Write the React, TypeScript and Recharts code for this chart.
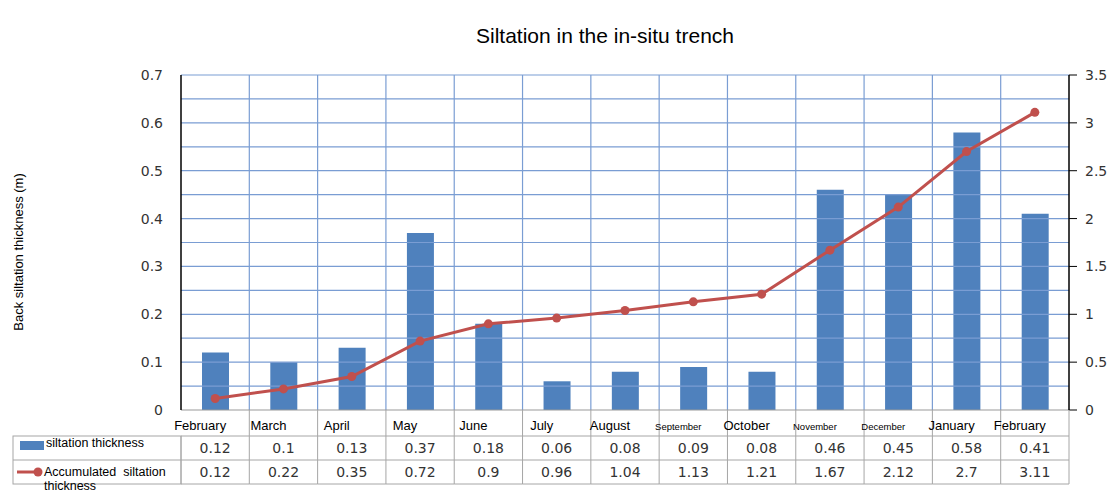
import React from 'react';
import { ComposedChart, Bar, Line, XAxis, YAxis, ReferenceLine } from 'recharts';

const months = ['February', 'March', 'April', 'May', 'June', 'July', 'August', 'September', 'October', 'November', 'December', 'January', 'February'];
const siltation = [0.12, 0.1, 0.13, 0.37, 0.18, 0.06, 0.08, 0.09, 0.08, 0.46, 0.45, 0.58, 0.41];
const accumulated = [0.12, 0.22, 0.35, 0.72, 0.9, 0.96, 1.04, 1.13, 1.21, 1.67, 2.12, 2.7, 3.11];
const leftTicks = [0, 0.1, 0.2, 0.3, 0.4, 0.5, 0.6, 0.7];
const rightTicks = [0, 0.5, 1, 1.5, 2, 2.5, 3, 3.5];
const gridValues = [0.05, 0.1, 0.15, 0.2, 0.25, 0.3, 0.35, 0.4, 0.45, 0.5, 0.55, 0.6, 0.65, 0.7];
const smallMonths = ['September', 'November', 'December'];

const data = months.map((m, i) => ({ id: i, month: m, silt: siltation[i], acc: accumulated[i] }));

const BAR_COLOR = '#4F81BD';
const LINE_COLOR = '#C0504D';
const GRID_COLOR = '#7A9DD3';
const TABLE_COLOR = '#A6A6A6';
const W = 1111;
const H = 493;
const LEFT_W = 181;
const RIGHT_W = 42;
const HALF = (W - LEFT_W - RIGHT_W) / months.length / 2;

const TableTick = (props: any) => {
  const { x, y, payload } = props;
  const i: number = payload.index ?? props.index ?? 0;
  const half = payload.offset || HALF;
  const left = x - half;
  const right = x + half;
  const month = months[i];
  const small = smallMonths.includes(month);
  const n = months.length;
  return (
    <g>
      <line x1={left} x2={left} y1={i === 0 ? y + 26 : y} y2={y + 74} stroke={TABLE_COLOR} />
      {i === n - 1 && <line x1={right} x2={right} y1={y} y2={y + 74} stroke={TABLE_COLOR} />}
      <line x1={left} x2={right} y1={y + 26} y2={y + 26} stroke={TABLE_COLOR} />
      <line x1={left} x2={right} y1={y + 50} y2={y + 50} stroke={TABLE_COLOR} />
      <line x1={left} x2={right} y1={y + 74} y2={y + 74} stroke={TABLE_COLOR} />
      <text x={x - 15} y={y + 20} textAnchor="middle" fontFamily="Liberation Sans, Arial, sans-serif" fontSize={small ? 9.5 : 13} fill="#000">
        {month}
      </text>
      <text x={x} y={y + 43} textAnchor="middle" fontFamily="DejaVu Sans, Verdana, sans-serif" fontSize={14} fill="#333">
        {siltation[i]}
      </text>
      <text x={x} y={y + 67} textAnchor="middle" fontFamily="DejaVu Sans, Verdana, sans-serif" fontSize={14} fill="#333">
        {accumulated[i]}
      </text>
      {i === 0 && (
        <g>
          <rect x={13} y={y + 26} width={left - 13} height={48} fill="none" stroke={TABLE_COLOR} />
          <line x1={13} x2={left} y1={y + 50} y2={y + 50} stroke={TABLE_COLOR} />
          <rect x={20} y={y + 31} width={24} height={9} fill={BAR_COLOR} />
          <text x={46} y={y + 37} fontFamily="Liberation Sans, Arial, sans-serif" fontSize={12.5} fill="#000">
            siltation thickness
          </text>
          <line x1={17} x2={42} y1={y + 62} y2={y + 62} stroke={LINE_COLOR} strokeWidth={3} />
          <circle cx={38} cy={y + 62} r={4.5} fill={LINE_COLOR} />
          <text x={44} y={y + 66} fontFamily="Liberation Sans, Arial, sans-serif" fontSize={12.5} fill="#000">
            Accumulated{'\u00a0\u00a0'}siltation
          </text>
          <text x={44} y={y + 80} fontFamily="Liberation Sans, Arial, sans-serif" fontSize={12.5} fill="#000">
            thickness
          </text>
        </g>
      )}
    </g>
  );
};

export default function App() {
  return (
    <div style={{ position: 'absolute', left: 0, top: 0, width: W, height: H, background: '#fff', overflow: 'hidden' }}>
      <div
        style={{
          position: 'absolute',
          left: 0,
          top: 23,
          width: 1210,
          textAlign: 'center',
          fontFamily: 'Liberation Sans, Arial, sans-serif',
          fontSize: 21,
          color: '#000',
          lineHeight: '26px',
        }}
      >
        Siltation in the in-situ trench
      </div>
      <div
        style={{
          position: 'absolute',
          left: 18,
          top: 252,
          transform: 'translate(-50%, -50%) rotate(-90deg)',
          whiteSpace: 'nowrap',
          fontFamily: 'Liberation Sans, Arial, sans-serif',
          fontSize: 13,
          color: '#000',
        }}
      >
        Back siltation thickness (m)
      </div>
      <ComposedChart
        width={W}
        height={H}
        data={data}
        margin={{ top: 75, right: 0, bottom: 0, left: 0 }}
        barCategoryGap={0}
        style={{ position: 'absolute', left: 0, top: 0 }}
      >
        <XAxis
          dataKey="id"
          type="category"
          height={83}
          interval={0}
          tickLine={false}
          tickSize={0}
          tickMargin={0}
          axisLine={{ stroke: '#999', strokeWidth: 1 }}
          tick={<TableTick />}
        />
        <YAxis
          yAxisId="left"
          width={LEFT_W}
          domain={[0, 0.7]}
          ticks={leftTicks}
          interval={0}
          tickLine={false}
          tickSize={0}
          tickMargin={18}
          axisLine={{ stroke: '#000', strokeWidth: 1.5 }}
          tick={{ fill: '#333', fontSize: 14, fontFamily: 'DejaVu Sans, Verdana, sans-serif' }}
        />
        <YAxis
          yAxisId="right"
          orientation="right"
          width={RIGHT_W}
          domain={[0, 3.5]}
          ticks={rightTicks}
          interval={0}
          tickSize={8}
          tickMargin={8}
          tickLine={{ stroke: '#000' }}
          axisLine={{ stroke: '#000', strokeWidth: 1.5 }}
          tick={{ fill: '#333', fontSize: 14, fontFamily: 'DejaVu Sans, Verdana, sans-serif', textAnchor: 'start' }}
        />
        {gridValues.map((v) => (
          <ReferenceLine key={'h' + v} yAxisId="left" y={v} stroke={GRID_COLOR} strokeWidth={1.2} ifOverflow="extendDomain" />
        ))}
        {data.slice(1).map((d) => (
          <ReferenceLine key={'v' + d.id} yAxisId="left" x={d.id} position="start" stroke={GRID_COLOR} strokeWidth={1.2} />
        ))}
        <Bar yAxisId="left" dataKey="silt" fill={BAR_COLOR} barSize={27} isAnimationActive={false} />
        <Line
          yAxisId="right"
          dataKey="acc"
          stroke={LINE_COLOR}
          strokeWidth={3}
          dot={{ r: 4.5, fill: LINE_COLOR, stroke: LINE_COLOR, strokeWidth: 0 }}
          activeDot={false}
          isAnimationActive={false}
        />
      </ComposedChart>
    </div>
  );
}
